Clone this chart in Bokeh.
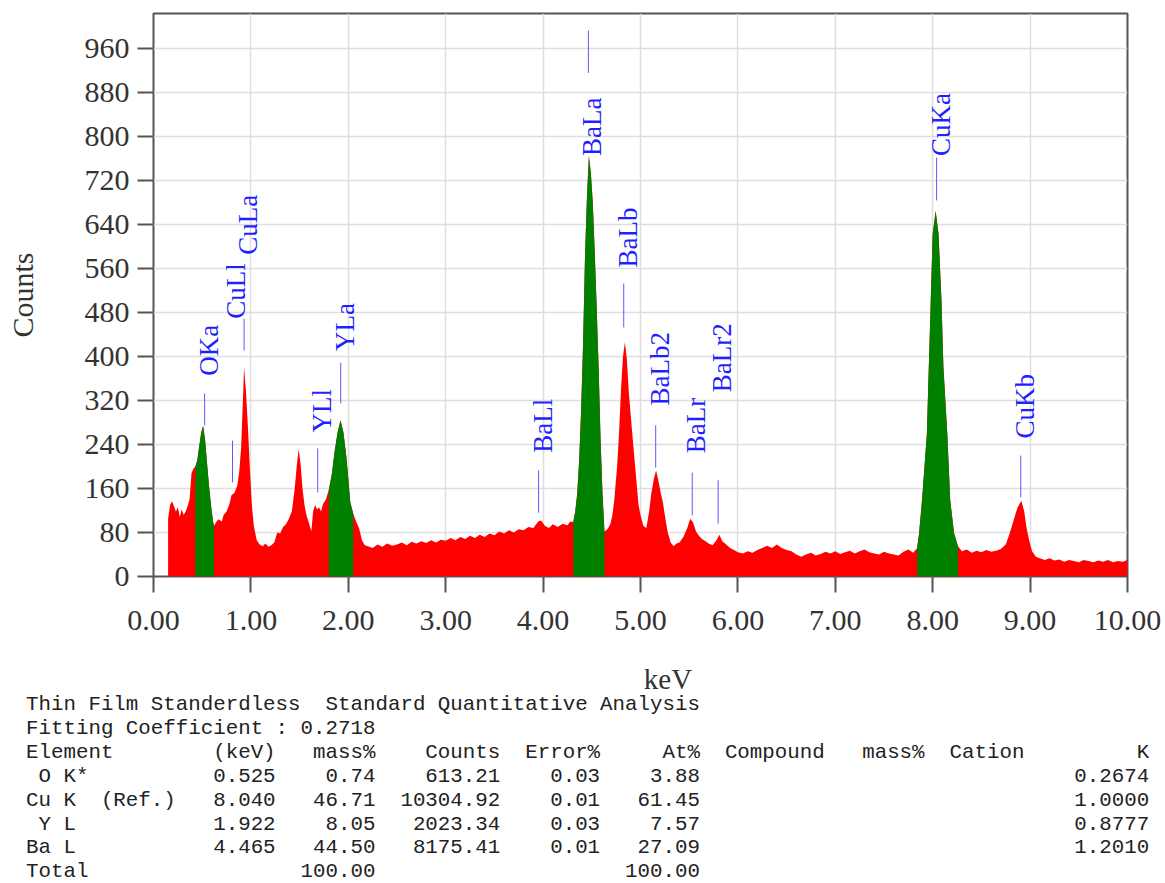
import html
import numpy as np
from bokeh.plotting import figure
from bokeh.models import Range1d, FixedTicker, Div, ColumnDataSource
from bokeh.layouts import column
from bokeh.embed import file_html
from bokeh.resources import INLINE
from bokeh.core.properties import value

# ---------------- spectrum ----------------
energy_keV = [
    0.15, 0.17, 0.19, 0.21, 0.23, 0.25, 0.27, 0.29, 0.31, 0.33, 0.35, 0.37, 0.39, 0.41,
    0.43, 0.45, 0.47, 0.49, 0.51, 0.53, 0.55, 0.57, 0.59, 0.61, 0.62,
    0.64, 0.67, 0.70, 0.72, 0.75, 0.78, 0.80, 0.83, 0.86, 0.88, 0.90, 0.92, 0.93, 0.95, 0.97,
    0.99, 1.01, 1.03, 1.06, 1.09, 1.12, 1.15, 1.18, 1.21, 1.24, 1.27, 1.30, 1.33, 1.36, 1.39,
    1.42, 1.45, 1.47, 1.49, 1.51, 1.53, 1.55, 1.57, 1.60, 1.62, 1.64, 1.66, 1.68, 1.70, 1.72,
    1.74, 1.77,
    1.80, 1.83, 1.86, 1.89, 1.92, 1.95, 1.98, 2.00, 2.02, 2.05,
    2.08, 2.11, 2.14, 2.17, 2.20, 2.25, 2.30, 2.35, 2.40, 2.45, 2.50, 2.55, 2.60, 2.65, 2.70,
    2.75, 2.80, 2.85, 2.90, 2.95, 3.00, 3.05, 3.10, 3.15, 3.20, 3.25, 3.30, 3.35, 3.40, 3.45,
    3.50, 3.55, 3.60, 3.65, 3.70, 3.75, 3.80, 3.85, 3.90, 3.95, 3.98, 4.02, 4.06, 4.10, 4.15,
    4.20, 4.25, 4.28,
    4.31, 4.33, 4.35, 4.37, 4.39, 4.41, 4.43, 4.45, 4.47, 4.49, 4.51, 4.53, 4.55, 4.57, 4.59,
    4.61, 4.63,
    4.66, 4.69, 4.71, 4.73, 4.76, 4.78, 4.80, 4.82, 4.84, 4.86, 4.88, 4.91, 4.93, 4.96, 4.98,
    5.00, 5.03, 5.06, 5.09, 5.11, 5.14, 5.16, 5.18, 5.21, 5.23, 5.26, 5.28, 5.31, 5.34, 5.37,
    5.40, 5.44, 5.48, 5.51, 5.54, 5.57, 5.60, 5.63, 5.66, 5.70, 5.74, 5.78, 5.81, 5.84, 5.88,
    5.92, 5.96, 6.00, 6.05, 6.10, 6.15, 6.20, 6.25, 6.30, 6.35, 6.40, 6.45, 6.50, 6.55, 6.60,
    6.65, 6.70, 6.75, 6.80, 6.85, 6.90, 6.95, 7.00, 7.05, 7.10, 7.15, 7.20, 7.25, 7.30, 7.35,
    7.40, 7.45, 7.50, 7.55, 7.60, 7.65, 7.70, 7.75, 7.80,
    7.84, 7.86, 7.89, 7.94, 7.96, 7.98, 8.00, 8.03, 8.06, 8.09, 8.11, 8.15, 8.18, 8.22, 8.26,
    8.30, 8.35, 8.40, 8.45, 8.50, 8.55, 8.60, 8.65, 8.70, 8.75, 8.79, 8.83, 8.87, 8.91, 8.94,
    8.96, 8.99, 9.02, 9.06, 9.10, 9.15, 9.20, 9.25, 9.30, 9.35, 9.40, 9.45, 9.50, 9.55, 9.60,
    9.65, 9.70, 9.75, 9.80, 9.85, 9.90, 9.95, 10.00,
]
counts = [
    105, 130, 137, 128, 118, 126, 108, 122, 112, 118, 128, 140, 188, 196,
    200, 212, 238, 262, 274, 248, 205, 165, 130, 102, 92,
    98, 104, 100, 112, 118, 132, 148, 152, 165, 190, 235, 330, 380, 335, 270,
    195, 130, 92, 66, 58, 55, 60, 54, 57, 62, 80, 78, 90, 95, 105,
    118, 160, 200, 232, 205, 160, 130, 112, 95, 82, 120, 130, 122, 126, 118,
    132, 140,
    158, 185, 228, 262, 284, 262, 218, 178, 135, 115,
    100, 88, 66, 57, 55, 52, 58, 54, 60, 56, 58, 62, 57, 63, 60,
    64, 61, 66, 62, 67, 65, 70, 66, 72, 68, 74, 70, 76, 72, 78,
    75, 82, 78, 84, 80, 86, 84, 90, 88, 100, 102, 92, 88, 95, 90,
    96, 93, 100,
    99, 118, 150, 210, 300, 420, 580, 690, 765, 735, 680, 590, 490, 380, 250,
    150, 82,
    86, 95, 110, 138, 200, 262, 340, 400, 426, 395, 335, 272, 230, 170, 130,
    112, 92, 88, 120, 150, 180, 193, 178, 150, 135, 100, 80, 62, 55, 60,
    62, 72, 88, 105, 98, 82, 74, 68, 65, 60, 57, 66, 76, 64, 58,
    52, 48, 44, 42, 46, 43, 48, 52, 56, 52, 58, 52, 48, 46, 40,
    36, 40, 43, 38, 41, 45, 42, 46, 41, 44, 47, 42, 46, 49, 44,
    42, 40, 45, 42, 40, 38, 45, 49, 43,
    52, 78, 138, 259, 381, 502, 623, 665, 623, 502, 381, 259, 138, 78, 55,
    46, 49, 43, 47, 44, 48, 45, 47, 50, 58, 78, 102, 125, 138, 118,
    92, 66, 46, 36, 33, 30, 33, 29, 31, 27, 30, 28, 26, 30, 28,
    26, 29, 27, 30, 26, 28, 27, 30,
]

# fitted regions of interest (drawn green)
roi_lo = [0.43, 1.80, 4.31, 7.84]
roi_hi = [0.62, 2.05, 4.63, 8.26]

# peak identification labels
peak_names = ["OKa", "CuLl", "CuLa", "YLl", "YLa", "BaLl", "BaLa", "BaLb",
              "BaLb2", "BaLr", "BaLr2", "CuKa", "CuKb"]
peak_keV = [0.525, 0.811, 0.930, 1.686, 1.922, 3.954, 4.465, 4.828,
            5.156, 5.531, 5.797, 8.040, 8.904]
label_start = [365, 469, 585, 262, 410, 225, 765, 562, 311, 224, 335, 765, 251]
marker_lo = [275, 171, 411, 153, 315, 116, 916, 453, 198, 111, 96, 684, 144]
marker_hi = [333, 247, 469, 233, 389, 193, 993, 533, 275, 189, 175, 762, 220]

x_ticks = [0, 1, 2, 3, 4, 5, 6, 7, 8, 9, 10]
x_tick_labels = ["0.00", "1.00", "2.00", "3.00", "4.00", "5.00",
                 "6.00", "7.00", "8.00", "9.00", "10.00"]
y_ticks = [0, 80, 160, 240, 320, 400, 480, 560, 640, 720, 800, 880, 960]
y_tick_labels = [str(v) for v in y_ticks]
x_title = "keV"
y_title = "Counts"

# quantitative table
tbl_element = [" O K*", "Cu K  (Ref.)", " Y L", "Ba L"]
tbl_kev = ["0.525", "8.040", "1.922", "4.465"]
tbl_mass = ["0.74", "46.71", "8.05", "44.50"]
tbl_counts = ["613.21", "10304.92", "2023.34", "8175.41"]
tbl_error = ["0.03", "0.01", "0.03", "0.01"]
tbl_at = ["3.88", "61.45", "7.57", "27.09"]
tbl_k = ["0.2674", "1.0000", "0.8777", "1.2010"]
tbl_total_mass = "100.00"
tbl_total_at = "100.00"

# ---------------- figure ----------------
SERIF = "Liberation Serif"
FIG_H = 646
p = figure(width=1165, height=FIG_H, x_range=Range1d(0, 10), y_range=Range1d(0, 1024),
           output_backend="svg", toolbar_location=None,
           min_border_left=153, min_border_right=38, min_border_top=13, min_border_bottom=70)
p.background_fill_color = "white"
p.border_fill_color = "white"
p.outline_line_color = "#555555"
p.outline_line_width = 2

src = ColumnDataSource(dict(x=energy_keV, y=counts))
p.varea(x="x", y1=0, y2="y", source=src, fill_color="#ff0000")

e_arr = np.array(energy_keV)
c_arr = np.array(counts)
for lo, hi in zip(roi_lo, roi_hi):
    m = (e_arr >= lo - 1e-9) & (e_arr <= hi + 1e-9)
    p.varea(x=e_arr[m], y1=0, y2=c_arr[m], fill_color="#008000")

lab = ColumnDataSource(dict(x=peak_keV, name=peak_names, start=label_start,
                            lo=marker_lo, hi=marker_hi))
p.segment(x0="x", y0="lo", x1="x", y1="hi", source=lab, line_color="#5a5aff", line_width=1)
p.text(x="x", y="start", text="name", source=lab, angle=np.pi / 2,
       text_align="left", text_baseline="middle", x_offset=4,
       text_font=value(SERIF), text_font_size="27px", text_color="#1f1fff")

# grids
p.xgrid.ticker = FixedTicker(ticks=x_ticks)
p.ygrid.ticker = FixedTicker(ticks=y_ticks)
for g in (p.xgrid, p.ygrid):
    g.grid_line_color = "#dedede"
    g.grid_line_width = 1.5

# axes
p.xaxis.ticker = FixedTicker(ticks=x_ticks)
p.xaxis.major_label_overrides = {t: l for t, l in zip(x_ticks, x_tick_labels)}
p.yaxis.ticker = FixedTicker(ticks=y_ticks)
p.yaxis.major_label_overrides = {t: l for t, l in zip(y_ticks, y_tick_labels)}
for ax in (p.xaxis[0], p.yaxis[0]):
    ax.axis_line_color = None
    ax.major_tick_line_color = "#555555"
    ax.major_tick_line_width = 2
    ax.major_tick_out = 16
    ax.major_tick_in = 0
    ax.minor_tick_line_color = None
    ax.major_label_text_font = SERIF
    ax.major_label_text_font_size = "30px"
    ax.major_label_text_color = "#333333"
p.xaxis.major_label_standoff = 18
p.yaxis.major_label_standoff = 8
p.yaxis.axis_label = y_title
p.yaxis.axis_label_text_font = SERIF
p.yaxis.axis_label_text_font_size = "30px"
p.yaxis.axis_label_text_font_style = "normal"
p.yaxis.axis_label_text_color = "#333333"
p.yaxis.axis_label_standoff = 43

# ---------------- x title + table text (below the plot) ----------------
lines = [
    "Thin Film Standerdless  Standard Quantitative Analysis",
    "Fitting Coefficient : 0.2718",
    f"{'Element':<15}{'(keV)':>5}{'mass%':>8}{'Counts':>10}{'Error%':>8}{'At%':>8}"
    f"  {'Compound':<8}{'mass%':>8}  {'Cation':<6}{'K':>10}",
]
for el, kv, ms, ct, er, at, kk in zip(tbl_element, tbl_kev, tbl_mass, tbl_counts,
                                       tbl_error, tbl_at, tbl_k):
    lines.append(f"{el:<15}{kv:>5}{ms:>8}{ct:>10}{er:>8}{at:>8}{kk:>36}")
lines.append(f"{'Total':<15}{'':>5}{tbl_total_mass:>8}{'':>10}{'':>8}{tbl_total_at:>8}")

DIV_H = 883 - FIG_H
body = (
    f"<div style=\"position:relative;width:1165px;height:{DIV_H}px;\">"
    "<div style=\"position:absolute;left:563px;top:14px;width:200px;text-align:center;"
    "font-family:'Liberation Serif',serif;font-size:29px;line-height:29px;color:#333333;\">"
    + html.escape(x_title) + "</div>"
    "<pre style=\"position:absolute;left:21px;top:42px;margin:0;padding:0;"
    "font-family:'Liberation Mono',monospace;font-size:20.8px;line-height:23.9px;"
    "color:#222222;\">"
    + "\n".join(html.escape(l) for l in lines) + "</pre></div>"
)
div = Div(text=body, width=1165, height=DIV_H)

layout = column(p, div, spacing=0)
open("out.html", "w").write(file_html(layout, INLINE))
